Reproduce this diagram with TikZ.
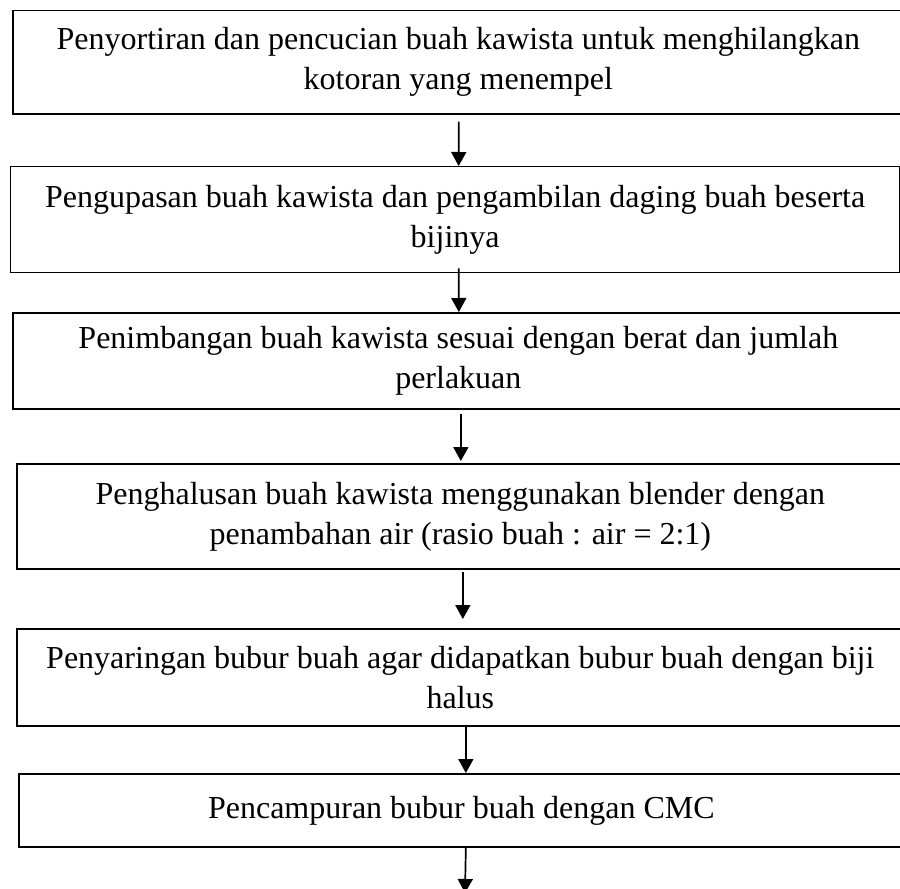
\documentclass[tikz,border=0pt]{standalone}
\usepackage{fontspec}
\setmainfont{Liberation Serif}
\usetikzlibrary{arrows.meta}
\begin{document}
\begin{tikzpicture}[x=1pt,y=-1pt,
  stepbox/.style={draw=black, line width=1.7pt, rectangle, anchor=north west,
    align=center, inner sep=0pt, font=\fontsize{32}{40}\selectfont},
  arr/.style={line width=1.7pt, -{Triangle[length=14pt,width=15pt]}}]
\useasboundingbox (0,0) rectangle (900,889);
\fill[white] (0,0) rectangle (900,889);
\node[stepbox, minimum width=891pt, minimum height=103.5pt] (b1) at (12,9.5)
  {Penyortiran dan pencucian buah kawista untuk menghilangkan\\kotoran yang menempel};
\node[stepbox, line width=1.3pt, minimum width=889pt, minimum height=106pt] (b2) at (10,166)
  {Pengupasan buah kawista dan pengambilan daging buah beserta\\bijinya};
\node[stepbox, minimum width=891pt, minimum height=96pt] (b3) at (12,312)
  {Penimbangan buah kawista sesuai dengan berat dan jumlah\\perlakuan};
\node[stepbox, minimum width=887pt, minimum height=105pt] (b4) at (16,463)
  {Penghalusan buah kawista menggunakan blender dengan\\penambahan air (rasio buah : air = 2:1)};
\node[stepbox, minimum width=887pt, minimum height=97pt] (b5) at (16,628)
  {Penyaringan bubur buah agar didapatkan bubur buah dengan biji\\halus};
\node[stepbox, minimum width=885pt, minimum height=73pt] (b6) at (18,773)
  {Pencampuran bubur buah dengan CMC};
\coordinate (endpt) at (465,893);
\draw[arr] ([xshift=0.5pt,yshift=-7pt]b1.south) -- ([xshift=3.5pt]b2.north);
\draw[arr] ([xshift=3.5pt,yshift=5pt]b2.south) -- ([xshift=0.5pt]b3.north);
\draw[arr] ([xshift=2.5pt,yshift=-4pt]b3.south) -- ([xshift=0.5pt,yshift=2pt]b4.north);
\draw[arr] ([xshift=2.5pt,yshift=-2pt]b4.south) -- ([xshift=2.5pt,yshift=9pt]b5.north);
\draw[arr] ([xshift=5.5pt]b5.south) -- ([xshift=4.5pt]b6.north);
\draw[arr] ([xshift=4.5pt]b6.south) -- (endpt);
\end{tikzpicture}
\end{document}
